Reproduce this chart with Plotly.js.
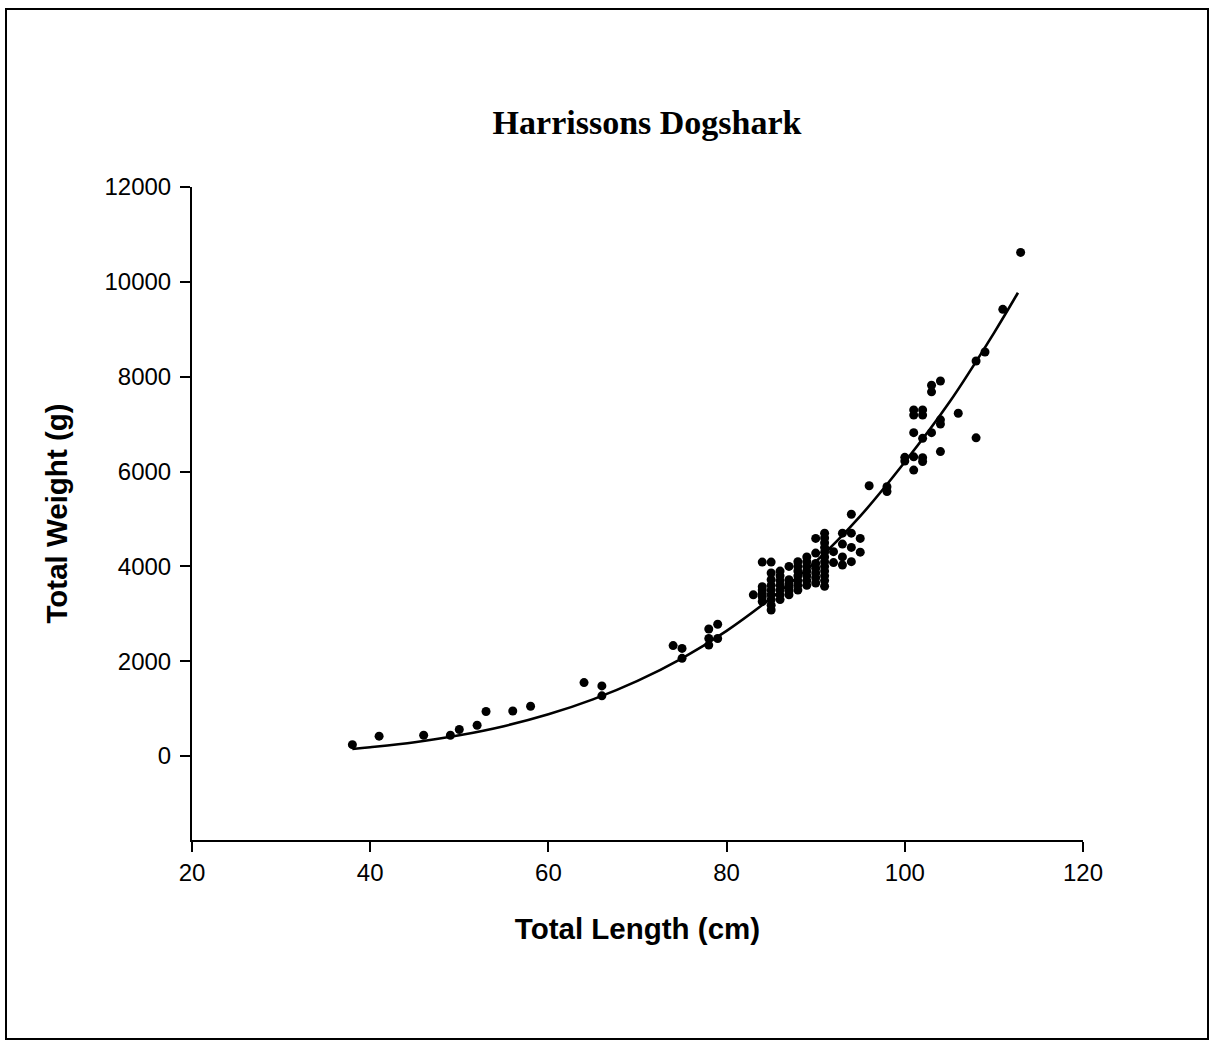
<!DOCTYPE html>
<html>
<head>
<meta charset="utf-8">
<script src="https://cdn.plot.ly/plotly-3.0.1.min.js"></script>
<style>
  html, body { margin: 0; padding: 0; background: #ffffff; }
  #chart { width: 1210px; height: 1041px; }
</style>
</head>
<body>
<div id="chart"></div>
<script>
// Observed specimens: total length (cm) and total weight (g)
const lengthCm = [
  38, 41, 46, 49, 50, 52, 53, 56, 58, 64, 66, 66,
  74, 75, 75, 78, 78, 78, 79, 79,
  83,
  84, 84, 84, 84, 84, 84,
  85, 85, 85, 85, 85, 85, 85, 85, 85,
  86, 86, 86, 86, 86, 86, 86,
  87, 87, 87, 87, 87, 87,
  88, 88, 88, 88, 88, 88, 88,
  89, 89, 89, 89, 89, 89, 89,
  90, 90, 90, 90, 90, 90, 90,
  91, 91, 91, 91, 91, 91, 91, 91, 91, 91, 91, 91,
  92, 92,
  93, 93, 93, 93,
  94, 94, 94, 94,
  95, 95,
  96, 98, 98, 100, 100,
  101, 101, 101, 101, 101,
  102, 102, 102, 102, 102,
  103, 103, 103,
  104, 104, 104, 104,
  106, 108, 108, 109, 111, 113
];
const weightG = [
  240, 420, 440, 440, 560, 650, 940, 950, 1050, 1550, 1480, 1270,
  2330, 2270, 2060, 2680, 2480, 2340, 2780, 2480,
  3400,
  4090, 3570, 3500, 3430, 3360, 3260,
  4090, 3860, 3720, 3600, 3500, 3400, 3300, 3180, 3080,
  3900, 3800, 3700, 3600, 3500, 3400, 3300,
  4000, 3720, 3640, 3560, 3480, 3400,
  4100, 4000, 3900, 3800, 3700, 3600, 3500,
  4200, 4100, 4000, 3900, 3800, 3700, 3600,
  4590, 4280, 4060, 3960, 3860, 3760, 3650,
  4700, 4600, 4500, 4400, 4300, 4200, 4100, 4000, 3900, 3800, 3700, 3580,
  4310, 4080,
  4700, 4470, 4200, 4030,
  5100, 4700, 4400, 4100,
  4590, 4300,
  5700, 5680, 5580, 6300, 6220,
  7300, 7190, 6820, 6310, 6030,
  7300, 7190, 6700, 6290, 6210,
  7820, 7680, 6820,
  7910, 7090, 7000, 6420,
  7230, 8330, 6710, 8520, 9420, 10620
];

// Fitted length-weight curve
const fitLength = [38, 40, 45, 50, 55, 60, 65, 70, 75, 80, 85, 90, 95, 100, 105, 110, 112.7];
const fitWeight = [150, 187, 293, 438, 630, 880, 1195, 1585, 2060, 2640, 3330, 4100, 5060, 6200, 7460, 8920, 9770];

// Axis tick values
const xTicks = [20, 40, 60, 80, 100, 120];
const yTicks = [0, 2000, 4000, 6000, 8000, 10000, 12000];

const traces = [
  {
    x: fitLength, y: fitWeight,
    type: 'scatter', mode: 'lines',
    line: { color: '#000000', width: 2.6, shape: 'spline' },
    hoverinfo: 'skip', showlegend: false
  },
  {
    x: lengthCm, y: weightG,
    type: 'scatter', mode: 'markers',
    marker: { color: '#000000', size: 9, line: { width: 0 } },
    showlegend: false
  }
];

const axisFont = { family: 'Liberation Sans, Arial, sans-serif', size: 24, color: '#000000' };

const layout = {
  width: 1210, height: 1041,
  paper_bgcolor: '#ffffff', plot_bgcolor: '#ffffff',
  margin: { l: 192, r: 127, t: 187, b: 201, pad: 0 },
  showlegend: false,
  title: {
    text: '<b>Harrissons Dogshark</b>',
    font: { family: 'Liberation Serif, Times New Roman, serif', size: 34, color: '#000000' },
    x: 0.5107, xref: 'paper', xanchor: 'center',
    y: 0.8828, yref: 'container', yanchor: 'middle'
  },
  xaxis: {
    range: [20, 120], autorange: false,
    tickvals: xTicks, ticktext: xTicks.map(String),
    ticks: 'outside', ticklen: 10, tickwidth: 2, tickcolor: '#000000',
    showline: true, linecolor: '#000000', linewidth: 2,
    showgrid: false, zeroline: false,
    tickfont: axisFont, ticklabelstandoff: 0,
    title: {
      text: '<b>Total Length (cm)</b>',
      font: { family: 'Liberation Sans, Arial, sans-serif', size: 29.5, color: '#000000' },
      standoff: 34
    },
    automargin: false
  },
  yaxis: {
    range: [-1770, 12000], autorange: false,
    tickvals: yTicks, ticktext: yTicks.map(String),
    ticks: 'outside', ticklen: 10, tickwidth: 2, tickcolor: '#000000',
    showline: true, linecolor: '#000000', linewidth: 2,
    showgrid: false, zeroline: false,
    tickfont: axisFont, ticklabelstandoff: 4,
    title: {
      text: '<b>Total Weight (g)</b>',
      font: { family: 'Liberation Sans, Arial, sans-serif', size: 29.5, color: '#000000' },
      standoff: 28
    },
    automargin: false
  },
  shapes: [
    {
      type: 'rect', xref: 'paper', yref: 'paper',
      x0: (6 - 192) / 891, x1: (1208 - 192) / 891,
      y0: (840 - 1039) / 653, y1: (840 - 9) / 653,
      line: { color: '#000000', width: 2 }, fillcolor: 'rgba(0,0,0,0)',
      layer: 'above'
    }
  ]
};

Plotly.newPlot('chart', traces, layout, { displayModeBar: false, staticPlot: true });
</script>
</body>
</html>
